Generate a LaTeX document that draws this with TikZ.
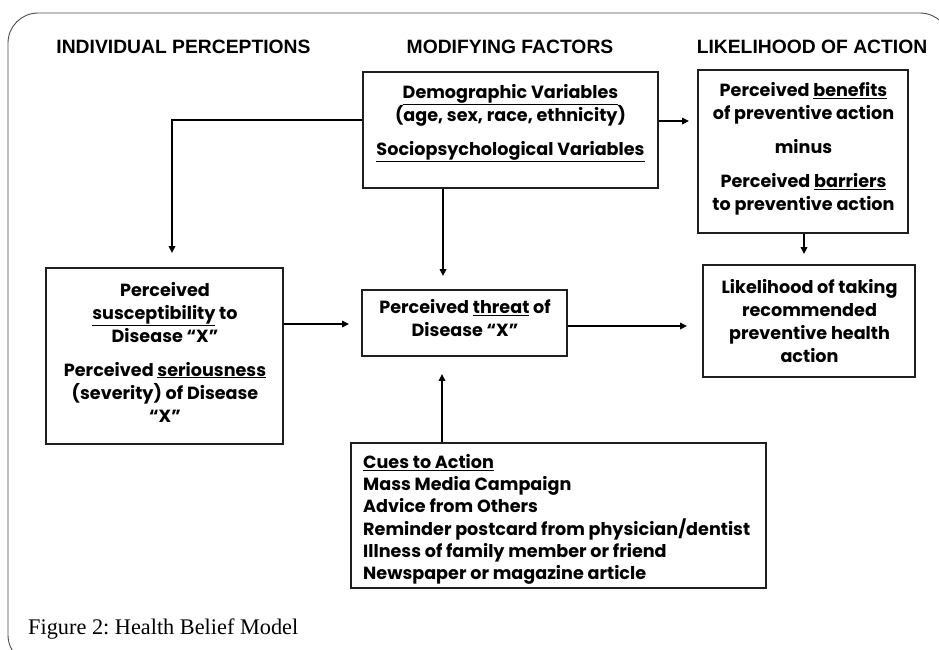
\documentclass[tikz,border=0pt]{standalone}
\usepackage{fontspec}
\setmainfont{Liberation Serif}
\newfontfamily\boxfont{Poppins}
\newfontfamily\headfont{Liberation Sans}
\usetikzlibrary{arrows.meta}
\newcommand{\ulx}[1]{\underline{#1}}
\frenchspacing
\begin{document}
\begin{tikzpicture}[x=1pt,y=-1pt,
  boxshape/.style={draw=black!88, line width=1.9pt, rectangle, inner sep=0pt},
  boxtext/.style={font=\boxfont\bfseries\fontsize{17.6}{23}\selectfont, align=center, inner sep=0pt},
  cuetext/.style={font=\boxfont\bfseries\fontsize{17.6}{22.3}\selectfont, align=left, inner sep=0pt, anchor=west},
  headtext/.style={font=\headfont\bfseries\fontsize{19.3}{22}\selectfont, inner sep=0pt},
  conn/.style={draw=black, line width=1.6pt, -{Triangle[length=7pt,width=6.5pt]}}]
\useasboundingbox (0,0) rectangle (939,649);
\begin{scope}
\clip (0,0) rectangle (939,649);
\draw[black!70, line width=0.9pt, rounded corners=30pt] (8,13) rectangle (950,665);
\end{scope}

% headers
\node[headtext] (h1) at (183.5,46.7) {INDIVIDUAL PERCEPTIONS};
\node[headtext] (h2) at (510,46.7) {MODIFYING FACTORS};
\node[headtext] (h3) at (812,46.7) {LIKELIHOOD OF ACTION};

% boxes
\node[boxshape, minimum width=295pt, minimum height=116pt] (demo) at (510.5,130) {};
\node[boxshape, minimum width=210pt, minimum height=163pt] (ben) at (803,151.5) {};
\node[boxshape, minimum width=212pt, minimum height=112pt] (lik) at (809,321) {};
\node[boxshape, minimum width=237pt, minimum height=176pt] (susc) at (164.5,356) {};
\node[boxshape, minimum width=205pt, minimum height=66pt] (threat) at (464.5,323) {};
\node[boxshape, minimum width=415pt, minimum height=145pt] (cues) at (558.5,515.5) {};

% texts
\node[boxtext] (demot) at (510.5,123) {\ulx{Demographic Variables}\\(age, sex, race, ethnicity)\\[11pt]\ulx{Sociopsychological Variables}};
\node[boxtext] (bent) at (803.5,148.5) {Perceived \ulx{benefits}\\of preventive action\\[11pt]minus\\[11pt]Perceived \ulx{barriers}\\to preventive action};
\node[boxtext] (likt) at (809.5,321.5) {Likelihood of taking\\recommended\\preventive health\\action};
\node[boxtext] (susct) at (165,352) {Perceived\\\ulx{susceptibility} to\\Disease \textquotedblleft X\textquotedblright\\[11pt]Perceived \ulx{seriousness}\\(severity) of Disease\\\textquotedblleft X\textquotedblright};
\node[boxtext] (threatt) at (465,318.5) {Perceived \ulx{threat} of\\Disease \textquotedblleft X\textquotedblright};
\node[cuetext] (cuest) at (363,519.5) {\ulx{Cues to Action}\\Mass Media Campaign\\Advice from Others\\Reminder postcard from physician/dentist\\Illness of family member or friend\\Newspaper or magazine article};

% caption
\node[font=\fontsize{22.3}{25}\selectfont, anchor=base west, inner sep=0pt] (cap) at (28,634) {Figure 2: Health Belief Model};

% connectors
\coordinate (a1) at (172,120);
\draw[conn, shorten >=14pt] (demo.west |- a1) -- (a1) -- (a1 |- susc.north);
\coordinate (a2) at (0,121);
\draw[conn, shorten >=8pt] (demo.east |- a2) -- (ben.west |- a2);
\coordinate (a3) at (443,0);
\draw[conn, shorten >=13pt] (demo.south -| a3) -- (threat.north -| a3);
\coordinate (a4) at (0,324);
\draw[conn, shorten >=12pt] (susc.east |- a4) -- (threat.west |- a4);
\coordinate (a5) at (0,326);
\draw[conn, shorten >=15pt] (threat.east |- a5) -- (lik.west |- a5);
\coordinate (a6) at (804,0);
\draw[conn, shorten >=10pt] (ben.south -| a6) -- (lik.north -| a6);
\coordinate (a7) at (442,0);
\draw[conn, shorten >=17pt] (cues.north -| a7) -- (threat.south -| a7);
\end{tikzpicture}
\end{document}
